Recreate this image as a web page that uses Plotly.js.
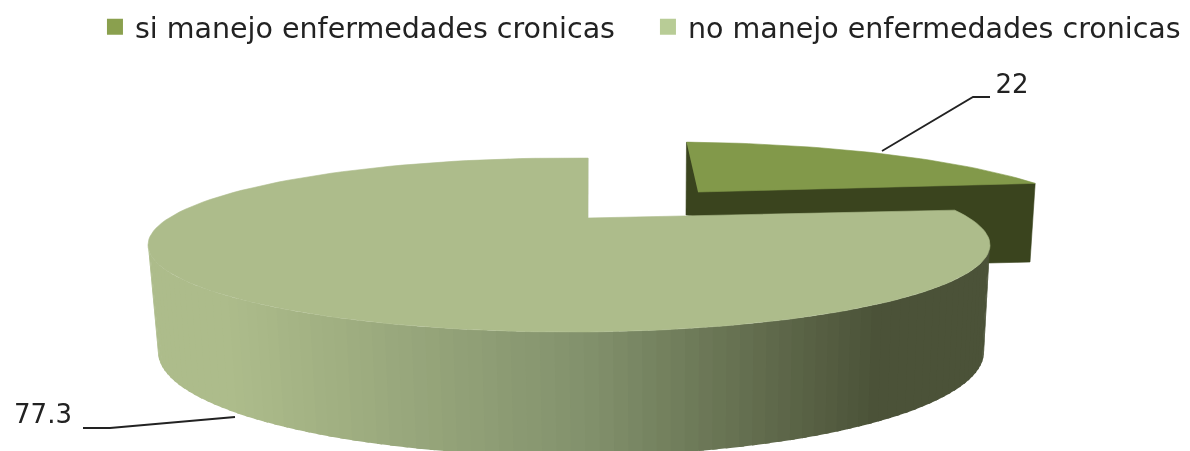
<!DOCTYPE html>
<html><head><meta charset="utf-8">
<script src="https://cdn.plot.ly/plotly-3.0.1.min.js"></script>
<style>html,body{margin:0;padding:0;background:#fff}#c{width:1190px;height:451px;filter:blur(0.7px)}</style>
</head><body><div id="c"></div>
<script>
var categories = ["si manejo enfermedades cronicas", "no manejo enfermedades cronicas"];
var values = [22, 77.3];
var topColors = ["#82994a", "#adbc8b"];
var legendColors = ["#8aa04e", "#b8cc96"];
var darkSmall = "#3a441e";
var sliver = "#9fae84";

var total = values[0] + values[1];
var shareSmall = values[0] / total, shareBig = values[1] / total;
var rad = Math.PI / 180;
// view projection: each slice's rim is an ellipse, sweep scaled for foreshortening
var bigTop = {cx:569, cy:245, rx:421, ry:87};
var bigBot = {cx:571, cy:352, rx:413, ry:104};
var smallTop = {cx:665, cy:232, rx:440, ry:90};
var bigStart = -87.4;
var bigEnd = bigStart - shareBig * 360 * 1.057;
var smallStart = -87.2, smallSweep = shareSmall * 360 * 0.683;
function pt(e,t){return [e.cx+e.rx*Math.cos(t*rad), e.cy+e.ry*Math.sin(t*rad)];}
function arc(e,a,b,n){var r=[];for(var i=0;i<=n;i++){r.push(pt(e,a+(b-a)*i/n));}return r;}
function poly(pts,color,extra){
  var o={x:pts.map(function(p){return p[0]}),y:pts.map(function(p){return p[1]}),mode:"lines",fill:"toself",
    fillcolor:color,line:{color:color,width:0.6},hoverinfo:"skip",showlegend:false,type:"scatter"};
  for(var k in extra)o[k]=extra[k];return o;
}
function mix(a,b,f){return "rgb("+[0,1,2].map(function(i){return Math.round(a[i]+(b[i]-a[i])*f)}).join(",")+")";}

var data=[];
var sApex=[698,192];
var sEnd=pt(smallTop,smallStart+smallSweep);
var sBegin=pt(smallTop,smallStart);
data.push(poly([sBegin,[686,215],[988,263],[1030,262],sEnd],darkSmall));
data.push(poly(arc(smallTop,smallStart,smallStart+smallSweep,40).concat([sApex]),topColors[0]));

var bApex=[588,218];
var bBegin=pt(bigTop,bigStart);
data.push(poly([bBegin,bApex,[575,218]],sliver));

var light=[173,188,139], mid=[130,145,108], dark=[75,82,56];
var N=90;
for(var i=0;i<N;i++){
  var a=180-180*i/N, b=180-180*(i+1.4)/N; if(b<0)b=0;
  var xc=(pt(bigBot,a)[0]);
  var f=(xc-230)/(870-230); f=Math.max(0,Math.min(1,f));
  var col=f<0.55?mix(light,mid,f/0.55):mix(mid,dark,(f-0.55)/0.45);
  data.push(poly(arc(bigTop,a,b,2).concat(arc(bigBot,b,a,2)),col,{line:{width:0}}));
}
data.push(poly(arc(bigTop,bigStart,bigEnd,160).concat([bApex]),topColors[1]));

data.push({x:[882,973,990],y:[151,97,97],mode:"lines",line:{color:"#222",width:1.8},hoverinfo:"skip",showlegend:false,type:"scatter"});
data.push({x:[83,110,235],y:[428,428,417],mode:"lines",line:{color:"#222",width:1.8},hoverinfo:"skip",showlegend:false,type:"scatter"});
data.push({x:[1012,43],y:[86,416],mode:"text",text:[String(values[0]),String(values[1])],
  textfont:{family:"DejaVu Sans, sans-serif",size:26,color:"#222"},hoverinfo:"skip",showlegend:false,type:"scatter"});
categories.forEach(function(c,i){
  data.push({x:[null],y:[null],name:c,mode:"markers",legend:i?"legend2":"legend",marker:{symbol:"square",size:19,color:legendColors[i]},type:"scatter",hoverinfo:"skip"});
});

var legendFont={family:"DejaVu Sans, sans-serif",size:28.5,color:"#222"};
Plotly.newPlot("c",data,{
  width:1190,height:451,margin:{l:0,r:0,t:0,b:0},paper_bgcolor:"#fff",plot_bgcolor:"#fff",
  xaxis:{range:[0,1190],visible:false,fixedrange:true},
  yaxis:{range:[451,0],visible:false,fixedrange:true},
  showlegend:true,
  legend:{x:0.0798,y:0.996,xanchor:"left",yanchor:"top",font:legendFont,itemwidth:30,bgcolor:"rgba(0,0,0,0)"},
  legend2:{x:0.5445,y:0.996,xanchor:"left",yanchor:"top",font:legendFont,itemwidth:30,bgcolor:"rgba(0,0,0,0)"}
},{displayModeBar:false,staticPlot:true});
</script></body></html>
